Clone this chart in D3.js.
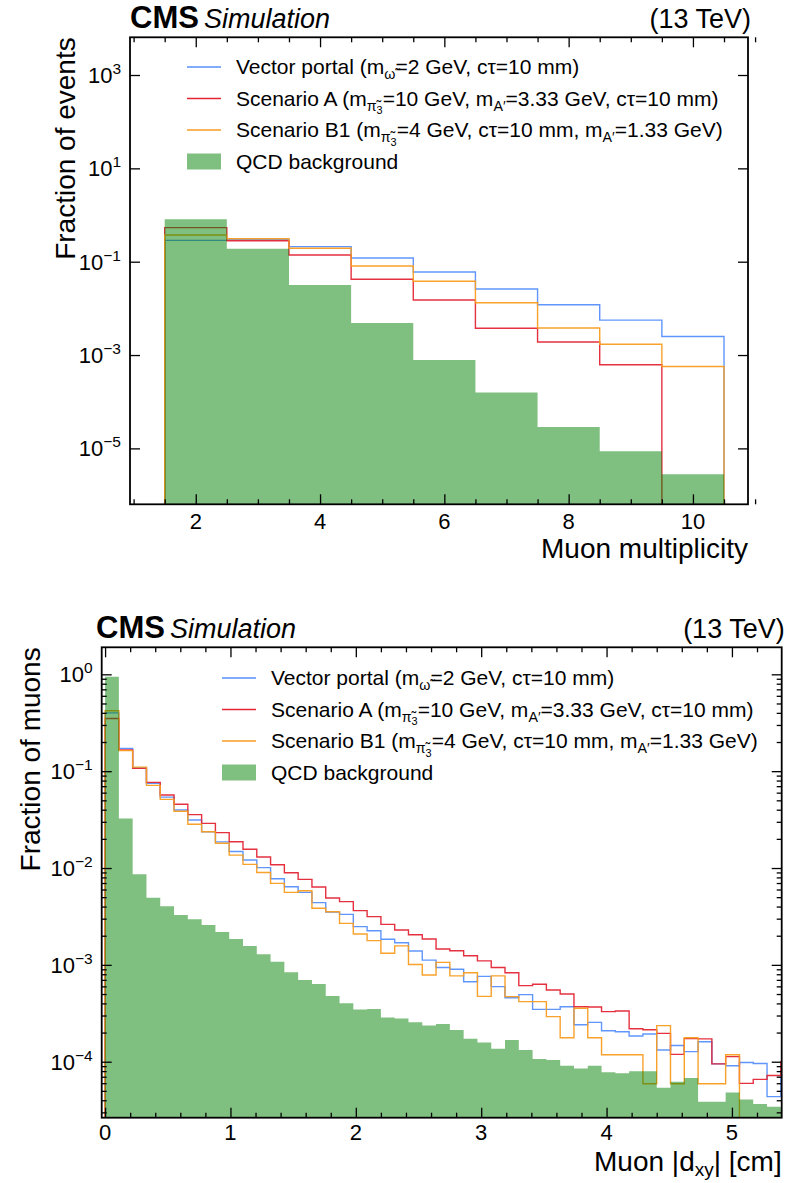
<!DOCTYPE html>
<html><head><meta charset="utf-8">
<script src="https://cdn.jsdelivr.net/npm/d3@7"></script>
<style>body{margin:0;background:#fff}svg{display:block}text{font-family:"Liberation Sans",Arial,sans-serif}</style>
</head><body><svg id="c" width="787" height="1183"></svg>
<script>
// ---------------- DATA ----------------
// Top panel: muon multiplicity (bins centred on integers)
const multCategories = [2, 3, 4, 5, 6, 7, 8, 9, 10];
const multVector = [0.287, 0.295, 0.21, 0.12, 0.060, 0.026, 0.012, 0.0056, 0.0025];
const multScenA  = [0.536, 0.282, 0.139, 0.042, 0.0151, 0.00374, 0.0019, 0.00062, 0];
const multScenB1 = [0.373, 0.311, 0.194, 0.081, 0.038, 0.0132, 0.0038, 0.0017, 0.00057];
const multQCD    = [0.81, 0.19, 0.0316, 0.00486, 7.8e-4, 1.58e-4, 2.87e-5, 8.7e-6, 2.78e-6];
const multXTicks = [2, 4, 6, 8, 10];
const multYTickExp = [3, 1, -1, -3, -5];

// Bottom panel: muon |dxy| (50 bins of 0.11 cm from 0 to 5.5 cm)
const dxyBinWidth = 0.11;
const dxyQCD = [0.946, 0.0325, 0.0086, 0.00494, 0.00402, 0.00327, 0.00295, 0.00258, 0.00219, 0.00185,
  0.00157, 0.00129, 0.00108, 8.4e-4, 6.98e-4, 6.34e-4, 4.77e-4, 4.01e-4, 3.47e-4, 3.5e-4,
  2.87e-4, 2.8e-4, 2.55e-4, 2.36e-4, 2.45e-4, 2.12e-4, 1.73e-4, 1.58e-4, 1.36e-4, 1.68e-4,
  1.32e-4, 1.07e-4, 1.04e-4, 9.1e-5, 8.5e-5, 9.1e-5, 7.8e-5, 7.6e-5, 7.95e-5, 7.95e-5,
  5.4e-5, 6.2e-5, 6.8e-5, 3.86e-5, 3.86e-5, 4.8e-5, 4.08e-5, 3.66e-5, 3.43e-5, 3.3e-5];
const dxyVector = [0.40, 0.172, 0.1085, 0.0748, 0.054, 0.0397, 0.0313, 0.0237, 0.0186, 0.0148,
  0.0121, 0.0101, 0.00776, 0.00641, 0.00561, 0.00439, 0.00351, 0.00332, 0.00248, 0.00225,
  0.00184, 0.00169, 0.00139, 0.00112, 9.4e-4, 9.0e-4, 6.7e-4, 7.6e-4, 5.96e-4, 4.58e-4,
  4.93e-4, 3.47e-4, 3.47e-4, 3.7e-4, 2.41e-4, 2.55e-4, 2.09e-4, 2.04e-4, 1.84e-4, 1.93e-4,
  1.32e-4, 1.47e-4, 1.27e-4, 1.61e-4, 9.5e-5, 9.1e-5, 9.8e-5, 9.6e-5, 4.36e-5, 7.9e-5];
const dxyScenA = [0.35, 0.166, 0.107, 0.0767, 0.0568, 0.0455, 0.0356, 0.0289, 0.0232, 0.0187,
  0.0156, 0.013, 0.0108, 0.00895, 0.00764, 0.00637, 0.0049, 0.0045, 0.00363, 0.00315,
  0.00262, 0.00229, 0.00205, 0.00185, 0.00146, 0.0014, 0.00124, 0.0011, 9.4e-4, 8.3e-4,
  6.1e-4, 6.3e-4, 5.5e-4, 5.0e-4, 3.7e-4, 3.67e-4, 3.29e-4, 3.34e-4, 2.19e-4, 2.14e-4,
  1.96e-4, 1.19e-4, 1.73e-4, 1.72e-4, 9.5e-5, 1.13e-4, 5.98e-5, 6.58e-5, 7.2e-5, 1.0e-4];
const dxyScenB1 = [0.42, 0.163, 0.110, 0.0714, 0.0512, 0.0385, 0.0283, 0.0237, 0.018, 0.0136,
  0.0109, 0.009, 0.00695, 0.00561, 0.00583, 0.00384, 0.00354, 0.00268, 0.00208, 0.00178,
  0.00132, 0.00157, 0.00101, 7.85e-4, 1.06e-3, 7.7e-4, 8.3e-4, 4.73e-4, 7.7e-4, 4.7e-4,
  4.17e-4, 4.17e-4, 2.92e-4, 1.77e-4, 3.56e-4, 1.77e-4, 1.18e-4, 1.18e-4, 1.18e-4, 5.93e-5,
  2.36e-4, 5.93e-5, 1.77e-4, 5.93e-5, 5.93e-5, 1.18e-4, 0, 0, 0, 0];
const dxyXTicks = [0, 1, 2, 3, 4, 5];
const dxyYTickExp = [0, -1, -2, -3, -4];

const seriesNames = ["Vector portal", "Scenario A", "Scenario B1", "QCD background"];
const colors = {vector: "#5790fc", scenA: "#e42536", scenB1: "#f89c20", qcd: "#008000"};

// ---------------- DRAWING ----------------
const svg = d3.select("#c");

function richText(g, x, y, segs, size, anchor, subOff) {
  // segs: [text, level]  level 0 normal, 1 subscript, 2 sub-subscript
  const t = g.append("text").attr("x", x).attr("y", y).attr("font-size", size)
    .attr("text-anchor", anchor || "start").attr("fill", "#000");
  const off = {0: 0, 1: subOff || 0.24, 2: 0.42};
  const sz = {0: 1, 1: 0.68, 2: 0.52};
  let cur = 0;
  segs.forEach(([s, lvl]) => {
    const target = off[lvl] * size;
    t.append("tspan").attr("dy", target - cur).attr("font-size", sz[lvl] * size).text(s);
    cur = target;
  });
  return t;
}

function legendEntries() {
  return [
    [["Vector portal (m", 0], ["ω̃", 1], ["=2 GeV, cτ=10 mm)", 0]],
    [["Scenario A (m", 0], ["π̃", 1], ["3", 2], ["=10 GeV, m", 0], ["A′", 1], ["=3.33 GeV, cτ=10 mm)", 0]],
    [["Scenario B1 (m", 0], ["π̃", 1], ["3", 2], ["=4 GeV, cτ=10 mm, m", 0], ["A′", 1], ["=1.33 GeV)", 0]],
    [[seriesNames[3], 0]]
  ];
}

function panel(o) {
  const g = svg.append("g");
  const x = d3.scaleLinear().domain(o.xDomain).range([o.left, o.right]);
  const y = d3.scaleLog().domain(o.yDomain).range([o.bottom, o.top]);
  const yb = o.bottom;
  const yv = v => (v > 0 ? y(v) : yb + 2);
  const id = "clip" + o.key;
  svg.append("clipPath").attr("id", id).append("rect")
    .attr("x", o.left).attr("y", o.top).attr("width", o.right - o.left).attr("height", o.bottom - o.top);
  const plot = g.append("g").attr("clip-path", `url(#${id})`);

  const edges = d3.range(o.n + 1).map(i => o.firstEdge + i * o.binW);
  const stepPts = vals => {
    const pts = [[edges[0], 0]];
    vals.forEach((v, i) => pts.push([edges[i], v]));
    pts.push([edges[o.n], vals[o.n - 1]]);
    pts.push([edges[o.n], 0]);
    return pts;
  };
  const line = d3.line().curve(d3.curveStepAfter).x(d => x(d[0])).y(d => yv(d[1]));
  o.lines.forEach(s => {
    plot.append("path").attr("d", line(stepPts(s.vals))).attr("fill", "none")
      .attr("stroke", s.color).attr("stroke-width", 1.4).attr("stroke-opacity", 0.95);
  });
  const areaPts = o.qcd.map((v, i) => [edges[i], v]).concat([[edges[o.n], o.qcd[o.n - 1]]]);
  const area = d3.area().curve(d3.curveStepAfter).x(d => x(d[0])).y0(yb).y1(d => yv(d[1]));
  plot.append("path").attr("d", area(areaPts)).attr("fill", colors.qcd).attr("fill-opacity", 0.5);

  // ticks (inward on all sides)
  const tk = (axis, tr, size, vals) => {
    const a = g.append("g").attr("transform", tr).call(axis.tickValues(vals).tickSize(size).tickFormat(""));
    a.select(".domain").remove();
    a.selectAll("line").attr("stroke", "#000").attr("stroke-width", 1.3);
  };
  tk(d3.axisBottom(x), `translate(0,${o.bottom})`, -10, o.xMajor);
  tk(d3.axisBottom(x), `translate(0,${o.bottom})`, -5, o.xMinor);
  tk(d3.axisTop(x), `translate(0,${o.top})`, -10, o.xMajor);
  tk(d3.axisTop(x), `translate(0,${o.top})`, -5, o.xMinor);
  const yMaj = o.yExp.map(e => Math.pow(10, e));
  tk(d3.axisLeft(y), `translate(${o.left},0)`, -10, yMaj);
  tk(d3.axisRight(y), `translate(${o.right},0)`, -10, yMaj);
  if (o.yMinor.length) {
    tk(d3.axisLeft(y), `translate(${o.left},0)`, -5, o.yMinor);
    tk(d3.axisRight(y), `translate(${o.right},0)`, -5, o.yMinor);
  }
  // frame
  g.append("rect").attr("x", o.left).attr("y", o.top).attr("width", o.right - o.left)
    .attr("height", o.bottom - o.top).attr("fill", "none").attr("stroke", "#000").attr("stroke-width", 1.8);

  // tick labels
  o.xMajor.forEach(v => g.append("text").attr("x", x(v)).attr("y", o.bottom + o.xLabOff)
    .attr("text-anchor", "middle").attr("font-size", 22).text(v));
  o.yExp.forEach(e => {
    const t = g.append("text").attr("x", o.left - 9).attr("y", y(Math.pow(10, e)) + 8)
      .attr("text-anchor", "end").attr("font-size", 22);
    t.append("tspan").text("10");
    t.append("tspan").attr("dy", -9).attr("font-size", 15.5).text(e < 0 ? "−" + (-e) : String(e));
  });

  // axis titles
  richText(g, o.right, o.xTitleY, o.xTitle, 28, "end", 0.18);
  g.append("text").attr("transform", `translate(${o.yTitleX},${o.top}) rotate(-90)`)
    .attr("text-anchor", "end").attr("font-size", 28).text(o.yTitle);

  // CMS label
  const cms = g.append("text").attr("x", o.cmsX).attr("y", o.top - 9);
  cms.append("tspan").attr("font-weight", "bold").attr("font-size", 31).text("CMS");
  cms.append("tspan").attr("dx", 5).attr("font-style", "italic").attr("font-size", 27).text("Simulation");
  g.append("text").attr("x", o.right + 3).attr("y", o.top - 9).attr("text-anchor", "end")
    .attr("font-size", 27).text("(13 TeV)");

  // legend
  const ents = legendEntries();
  const lcol = [colors.vector, colors.scenA, colors.scenB1];
  ents.forEach((segs, i) => {
    const cy = o.legY + i * o.legStep;
    if (i < 3) {
      g.append("line").attr("x1", o.legX).attr("x2", o.legX + 34).attr("y1", cy).attr("y2", cy)
        .attr("stroke", lcol[i]).attr("stroke-width", 1.4);
    } else {
      g.append("rect").attr("x", o.legX).attr("y", cy - 8).attr("width", 34).attr("height", 16)
        .attr("fill", colors.qcd).attr("fill-opacity", 0.5);
    }
    richText(g, o.legX + 49, cy + 7, segs, 21, "start");
  });
}

panel({
  key: "top", left: 130, right: 748, top: 37.3, bottom: 504.3,
  xDomain: [0.942, 10.886],
  yDomain: [Math.pow(10, -6.198), Math.pow(10, 3.808)],
  n: multCategories.length, firstEdge: multCategories[0] - 0.5, binW: 1,
  lines: [{vals: multVector, color: colors.vector}, {vals: multScenA, color: colors.scenA}, {vals: multScenB1, color: colors.scenB1}],
  qcd: multQCD,
  xMajor: multXTicks, xMinor: d3.range(1, 11.01, 0.5).filter(v => v % 2 !== 0),
  yExp: multYTickExp, yMinor: [], xLabOff: 25,
  xTitle: [["Muon multiplicity", 0]], xTitleY: 558,
  yTitle: "Fraction of events", yTitleX: 75,
  cmsX: 130, legX: 187, legY: 67, legStep: 31.5
});

const yMinorBot = [];
for (let d = -5; d <= 0; d++) for (let k = 2; k <= 9; k++) yMinorBot.push(k * Math.pow(10, d));
panel({
  key: "bot", left: 101.7, right: 781.7, top: 647.3, bottom: 1117.7,
  xDomain: [-0.027, 5.397],
  yDomain: [Math.pow(10, -4.578), Math.pow(10, 0.279)],
  n: dxyQCD.length, firstEdge: 0, binW: dxyBinWidth,
  lines: [{vals: dxyVector, color: colors.vector}, {vals: dxyScenA, color: colors.scenA}, {vals: dxyScenB1, color: colors.scenB1}],
  qcd: dxyQCD,
  xMajor: dxyXTicks, xMinor: d3.range(0.2, 5.4, 0.2).filter(v => Math.abs(v - Math.round(v)) > 0.01),
  yExp: dxyYTickExp, yMinor: yMinorBot.filter(v => v > Math.pow(10, -4.578) && v < Math.pow(10, 0.279)),
  xLabOff: 22,
  xTitle: [["Muon |d", 0], ["xy", 1], ["| [cm]", 0]], xTitleY: 1171,
  yTitle: "Fraction of muons", yTitleX: 40,
  cmsX: 96, legX: 222, legY: 678, legStep: 31.5
});
</script></body></html>
